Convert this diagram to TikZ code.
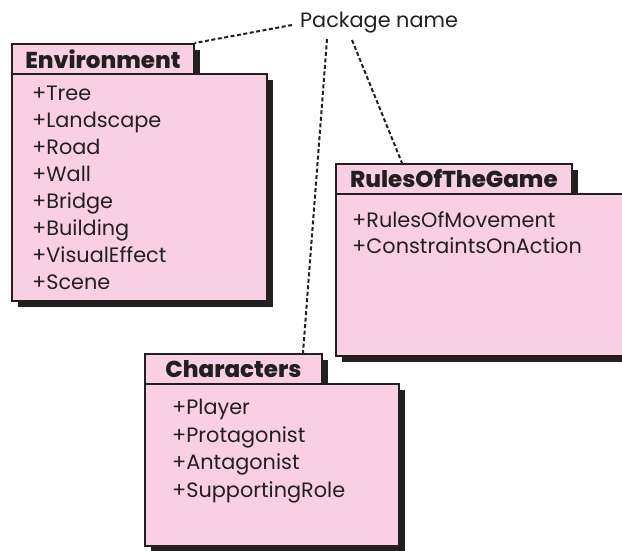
\documentclass[tikz,border=0pt]{standalone}
\usepackage{fontspec}
\setmainfont{Poppins}
\newfontfamily\heavyfont{Poppins ExtraBold}
\usetikzlibrary{positioning,calc,shadows}

\definecolor{pkgpink}{HTML}{F9D0E3}
\definecolor{pkgdark}{HTML}{231F20}

\newcommand{\itemfont}{\fontsize{20.8}{22}\selectfont}
\newcommand{\titlefont}{\fontsize{23}{24}\selectfont\heavyfont}

\tikzset{
  pkgshape/.style={draw=pkgdark, fill=pkgpink, line width=1.8pt, inner sep=0pt, anchor=north west,
    general shadow={fill=pkgdark, shadow xshift=6.5pt, shadow yshift=-6.5pt}},
  pkgtab/.style={pkgshape, minimum height=30pt, font=\titlefont, text=pkgdark},
  pkgitem/.style={anchor=base west, inner sep=0pt, font=\itemfont, text=pkgdark},
  pkglink/.style={draw=pkgdark, line width=2pt, dash pattern=on 4pt off 2.5pt}
}

\begin{document}
\begin{tikzpicture}[x=1pt,y=-1pt]
    \useasboundingbox (0,0) rectangle (622,550);

    % package name label
    \node[pkgitem] (pkgname) at (300,27) {Package name};

    % Environment
    \node[pkgtab, minimum width=182pt] (envtab) at (11,43) {Environment};
    \node[pkgshape, minimum width=255pt, minimum height=227pt] (envbody) at (11,73) {};
    \foreach \name [count=\i] in {Tree,Landscape,Road,Wall,Bridge,Building,VisualEffect,Scene}
        \node[pkgitem] (env\i) at ($(envbody.north west)+(21,27*\i)$) {+\name};

    % RulesOfTheGame
    \node[pkgtab, minimum width=236pt] (rulestab) at (335,163) {RulesOfTheGame};
    \node[pkgshape, minimum width=300pt, minimum height=162pt] (rulesbody) at (335,193) {};
    \foreach \name [count=\i] in {RulesOfMovement,ConstraintsOnAction}
        \node[pkgitem] (rules\i) at ($(rulesbody.north west)+(17,8+26*\i)$) {+\name};

    % Characters
    \node[pkgtab, minimum width=177pt] (chartab) at (144,353) {Characters};
    \node[pkgshape, minimum width=254pt, minimum height=162pt] (charbody) at (144,383) {};
    \foreach \name [count=\i] in {Player,Protagonist,Antagonist,SupportingRole}
        \node[pkgitem] (char\i) at ($(charbody.north west)+(28,4+27.5*\i)$) {+\name};

    % links to the package name
    \coordinate (linkenv) at ($(pkgname.base west)+(-8,-2)$);
    \coordinate (linkchar) at ($(pkgname.base west)+(27,12)$);
    \coordinate (linkrules) at ($(pkgname.base west)+(52,13)$);
    \draw[pkglink] (linkenv) -- (envtab.north east);
    \draw[pkglink] (linkchar) -- ($(chartab.north west)+(159,0)$);
    \draw[pkglink] (linkrules) -- ($(rulestab.north west)+(67,0)$);
\end{tikzpicture}
\end{document}
